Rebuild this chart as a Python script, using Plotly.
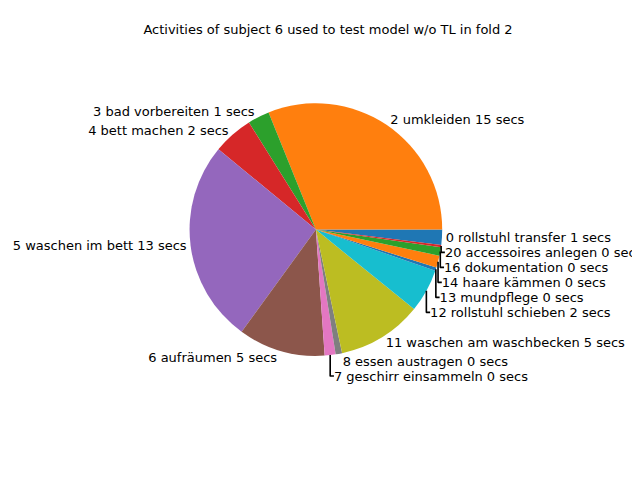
import plotly.graph_objects as go

# activities in plotting order (counterclockwise from 3 o'clock)
labels = ["0 rollstuhl transfer 1 secs", "2 umkleiden 15 secs", "3 bad vorbereiten 1 secs",
          "4 bett machen 2 secs", "5 waschen im bett 13 secs", "6 aufräumen 5 secs",
          "7 geschirr einsammeln 0 secs", "8 essen austragen 0 secs",
          "11 waschen am waschbecken 5 secs", "12 rollstuhl schieben 2 secs",
          "13 mundpflege 0 secs", "14 haare kämmen 0 secs",
          "16 dokumentation 0 secs", "20 accessoires anlegen 0 secs"]
# slice shares (degrees)
shares = [7, 112, 10, 18.5, 93.5, 40, 5, 3, 39, 20, 1.5, 5.5, 4, 1]
colors = ["#1f77b4", "#ff7f0e", "#2ca02c", "#d62728", "#9467bd", "#8c564b", "#e377c2",
          "#7f7f7f", "#bcbd22", "#17becf", "#1f77b4", "#ff7f0e", "#2ca02c", "#d62728"]

fig = go.Figure(go.Pie(
    labels=labels, values=shares, text=labels, textinfo="text",
    textposition="outside", sort=False, direction="counterclockwise",
    rotation=90, marker=dict(colors=colors),
    textfont=dict(family="DejaVu Sans", size=13, color="black"),
    domain=dict(x=[0.222, 0.791], y=[0.194, 0.952]),
    showlegend=False, hoverinfo="label",
))

fig.update_layout(
    title=dict(text="Activities of subject 6 used to test model w/o TL in fold 2",
               x=0.5, y=0.965, xanchor="center",
               font=dict(family="DejaVu Sans", size=13, color="black")),
    width=640, height=480, margin=dict(l=0, r=0, t=0, b=0),
    paper_bgcolor="white", plot_bgcolor="white",
)

fig.write_html("out.html")
